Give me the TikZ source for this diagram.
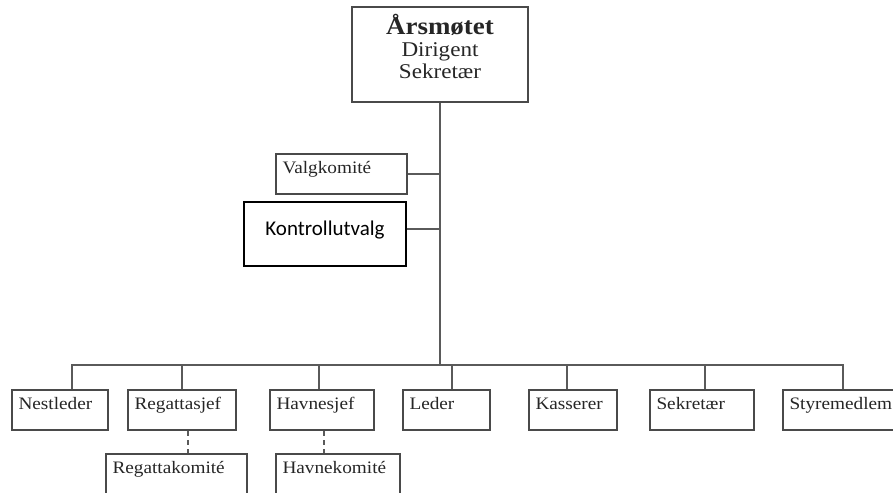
\documentclass[tikz,border=0pt]{standalone}
\usepackage{fontspec}
\setmainfont[FakeStretch=1.1]{Liberation Serif}
\newfontfamily\kontrollfont{Carlito}
\definecolor{linjegraa}{HTML}{5A5A5A}
\definecolor{boksgraa}{HTML}{4A4A4A}
\definecolor{tekstgraa}{HTML}{262626}

\begin{document}
\begin{tikzpicture}[x=1pt, y=-1pt,
			verv/.style={draw=boksgraa, line width=2pt, anchor=north west, inner xsep=6.5pt, inner ysep=0pt, text height=19pt, text depth=21pt, align=left, text=tekstgraa, font=\fontsize{17.5}{20}\selectfont},
			linje/.style={draw=linjegraa, line width=1.8pt},
			stiplet/.style={draw=linjegraa, line width=1.5pt, dash pattern=on 5pt off 4pt}
			]
			
			% Ramme for bildet
			\useasboundingbox (0,0) rectangle (893,492);
			\clip (0,0) rectangle (893,492);
			
			% Årsmøtet øverst
			\node[draw=boksgraa, line width=2pt, minimum width=176pt, minimum height=95pt] (arsmote) at (440,54.5) {};
			\node[anchor=north, inner sep=0pt, align=center, text=tekstgraa, font=\fontsize{21}{22}\selectfont] (arstekst) at (440,14) {{\fontsize{24.5}{22}\selectfont\bfseries Årsmøtet}\\Dirigent\\Sekretær};
			
			% Utvalg ved siden av hovedlinjen
			\node[verv, text width=118pt] (valgkomite) at (275,153) {Valgkomité};
			\node[draw=black, line width=1.2pt, minimum width=162pt, minimum height=64pt, text height=15pt, text depth=13pt, font=\kontrollfont\fontsize{21}{24}\selectfont] (kontroll) at (325,234) {Kontrollutvalg};
			
			% Styret på rad nederst
			\node[verv, text width=83pt] (nestleder) at (11,389) {Nestleder};
			\node[verv, text width=95pt] (regattasjef) at (127,389) {Regattasjef};
			\node[verv, text width=91pt] (havnesjef) at (269,389) {Havnesjef};
			\node[verv, text width=74pt] (leder) at (402,389) {Leder};
			\node[verv, text width=75pt] (kasserer) at (528,389) {Kasserer};
			\node[verv, text width=91pt] (sekretaer) at (649,389) {Sekretær};
			\node[verv, text width=112pt] (styremedlem) at (782,389) {Styremedlem};
			
			% Komiteer under
			\node[verv, text width=128pt] (regattakomite) at (105,453) {Regattakomité};
			\node[verv, text width=111pt] (havnekomite) at (275,453) {Havnekomité};
			
			% Hovedlinje og buss
			\coordinate (buss) at (440,365);
			\draw[linje] (arsmote.south) -- (buss);
			\draw[linje] (valgkomite.east) -- (valgkomite.east -| buss);
			\draw[linje] ([yshift=5pt]kontroll.east) -- ([yshift=5pt]kontroll.east -| buss);
			
			% Linjer ned til styret
			\draw[linje] ([xshift=12pt]nestleder.north) |- (buss);
			\draw[linje] (regattasjef.north) |- (buss);
			\draw[linje] ([xshift=-3pt]havnesjef.north) |- (buss);
			\draw[linje] ([xshift=5.5pt]leder.north) |- (buss);
			\draw[linje] ([xshift=-6pt]kasserer.north) |- (buss);
			\draw[linje] ([xshift=3pt]sekretaer.north) |- (buss);
			\draw[linje] ([xshift=-2.5pt]styremedlem.north) |- (buss);
			
			% Stiplede linjer til komiteene
			\draw[stiplet] ([xshift=6pt]regattasjef.south) -- ([xshift=6pt]regattasjef.south |- regattakomite.north);
			\draw[stiplet] ([xshift=2pt]havnesjef.south) -- ([xshift=2pt]havnesjef.south |- havnekomite.north);
			
		\end{tikzpicture}
\end{document}
